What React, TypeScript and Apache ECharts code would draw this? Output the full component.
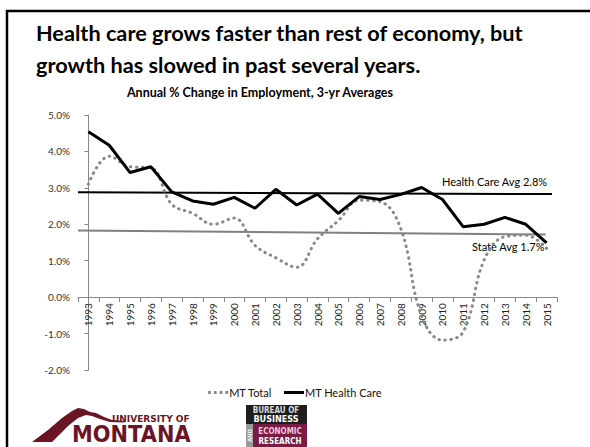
import React, { useEffect, useRef } from "react";
import * as echarts from "echarts";

const years = ["1993","1994","1995","1996","1997","1998","1999","2000","2001","2002","2003","2004","2005","2006","2007","2008","2009","2010","2011","2012","2013","2014","2015"];
const mtTotal = [3.1, 3.87, 3.58, 3.55, 2.55, 2.3, 2.0, 2.17, 1.42, 1.08, 0.82, 1.6, 2.1, 2.66, 2.62, 1.88, -0.52, -1.18, -0.95, 1.02, 1.66, 1.7, 1.34];
const mtHealth = [4.54, 4.17, 3.42, 3.58, 2.89, 2.64, 2.55, 2.74, 2.44, 2.96, 2.53, 2.83, 2.3, 2.76, 2.68, 2.82, 3.01, 2.68, 1.93, 2.0, 2.19, 2.0, 1.49];
const healthAvgLine = [[-0.5, 2.88], [22.26, 2.83]];
const stateAvgLine = [[-0.5, 1.83], [21.95, 1.72]];
const yTicks = { min: -2, max: 5, interval: 1 };

const FONT = "Lato, 'Open Sans', sans-serif";
const MAROON = "#6b1425";

export default function App() {
  const ref = useRef<HTMLDivElement>(null);
  useEffect(() => {
    document.body.style.margin = "0";
    const chart = echarts.init(ref.current!, null, { renderer: "svg" });
    const gridTop = 115;
    const gridBottom = 77;
    const plotH = 447 - gridTop - gridBottom;
    const zeroOffset = -plotH * (0 - yTicks.min) / (yTicks.max - yTicks.min);
    chart.setOption({
      animation: false,
      backgroundColor: "#ffffff",
      textStyle: { fontFamily: FONT },
      grid: { left: 78, right: 33, top: gridTop, bottom: gridBottom, containLabel: false },
      xAxis: [
        {
          type: "category",
          data: years,
          boundaryGap: true,
          position: "bottom",
          offset: zeroOffset,
          axisLine: { onZero: false, lineStyle: { color: "#888", width: 1 } },
          axisTick: { show: true, length: 5, lineStyle: { color: "#888" } },
          axisLabel: { rotate: 90, fontSize: 10, color: "#222", fontFamily: FONT, margin: 6, interval: 0 },
        },
        { type: "value", min: -0.5, max: 22.5, show: false },
      ],
      yAxis: {
        type: "value",
        min: yTicks.min,
        max: yTicks.max,
        interval: yTicks.interval,
        axisLine: { show: true, lineStyle: { color: "#888" } },
        axisTick: { show: true, length: 4, lineStyle: { color: "#888" } },
        splitLine: { show: false },
        axisLabel: { fontSize: 10, color: "#333", margin: 8, formatter: (v: number) => v.toFixed(1) + "%" },
      },
      legend: {
        top: 382,
        left: "center",
        itemWidth: 20,
        itemHeight: 3,
        itemGap: 12,
        textStyle: { fontSize: 11, color: "#111", fontFamily: FONT, padding: [0, 0, 0, -4] },
        data: [
          { name: "MT Total", icon: "path://M0,0h2.4v2.4h-2.4z M5,0h2.4v2.4h-2.4z M10,0h2.4v2.4h-2.4z M15,0h2.4v2.4h-2.4z", itemStyle: { color: "#888" } },
          { name: "MT Health Care", icon: "rect", itemStyle: { color: "#000" } },
        ],
      },
      series: [
        {
          name: "Health Care Avg",
          type: "line",
          xAxisIndex: 1,
          data: healthAvgLine,
          symbol: "none",
          lineStyle: { color: "#000", width: 2 },
          silent: true,
          z: 1,
        },
        {
          name: "State Avg",
          type: "line",
          xAxisIndex: 1,
          data: stateAvgLine,
          symbol: "none",
          lineStyle: { color: "#808080", width: 2 },
          silent: true,
          z: 1,
        },
        {
          name: "MT Total",
          type: "line",
          data: mtTotal,
          smooth: 0.4,
          symbol: "none",
          itemStyle: { color: "#888" },
          lineStyle: { color: "#888", width: 3, type: [0.5, 5.5], cap: "round" },
          z: 2,
        },
        {
          name: "MT Health Care",
          type: "line",
          data: mtHealth,
          symbol: "none",
          itemStyle: { color: "#000" },
          lineStyle: { color: "#000", width: 3 },
          z: 3,
        },
      ],
      graphic: [
        { type: "rect", shape: { x: 7, y: 11, width: 700, height: 600 }, style: { fill: "none", stroke: "#000", lineWidth: 2.5 }, silent: true },
        { type: "text", x: 36, y: 33, style: { text: "Health care grows faster than rest of economy, but", font: `bold 21.7px ${FONT}`, fill: "#000", textVerticalAlign: "middle" } },
        { type: "text", x: 36, y: 65, style: { text: "growth has slowed in past several years.", font: `bold 21.7px ${FONT}`, fill: "#000", textVerticalAlign: "middle" } },
        { type: "text", x: 260, y: 92, style: { text: "Annual % Change in Employment, 3-yr Averages", font: `bold 12.5px ${FONT}`, fill: "#000", textAlign: "center", textVerticalAlign: "middle" } },
        { type: "text", x: 442, y: 181, style: { text: "Health Care Avg 2.8%", font: `11px ${FONT}`, fill: "#000", textVerticalAlign: "middle" } },
        { type: "text", x: 472, y: 246, style: { text: "State Avg 1.7%", font: `11px ${FONT}`, fill: "#000", textVerticalAlign: "middle" } },
        // University of Montana logo
        {
          type: "polygon",
          shape: { points: [[32,442],[48,430],[62,418],[72,411],[78,408],[84,409],[90,412],[96,413],[104,417],[112,420],[124,421],[124,422.5],[110,422],[100,419],[92,416],[86,415],[78,418],[68,426],[58,436],[52,442]] },
          style: { fill: MAROON },
        },
        { type: "text", x: 112, y: 418.5, style: { text: "UNIVERSITY OF", font: `bold 9px 'DejaVu Sans', sans-serif`, fill: MAROON, textVerticalAlign: "middle", lineHeight: 9 } },
        { type: "text", x: 72, y: 434.5, scaleX: 0.93, style: { text: "MONTANA", font: `900 22.5px 'DejaVu Sans', sans-serif`, fill: MAROON, textVerticalAlign: "middle", lineHeight: 17 } },
        // BBER logo
        { type: "rect", shape: { x: 246, y: 405, width: 61, height: 19 }, style: { fill: "#1e1e1e" } },
        { type: "rect", shape: { x: 246, y: 424, width: 7, height: 23 }, style: { fill: "#9a9a9a" } },
        { type: "rect", shape: { x: 253, y: 424, width: 54, height: 23 }, style: { fill: "#7a1b45" } },
        { type: "text", x: 276, y: 410, style: { text: "BUREAU OF", font: `bold 8px 'DejaVu Sans Condensed', sans-serif`, fill: "#ddd", textAlign: "center", textVerticalAlign: "middle", lineHeight: 8 } },
        { type: "text", x: 276, y: 419, style: { text: "BUSINESS", font: `bold 9px 'DejaVu Sans Condensed', sans-serif`, fill: "#fff", textAlign: "center", textVerticalAlign: "middle", lineHeight: 9 } },
        { type: "text", x: 280, y: 431, style: { text: "ECONOMIC", font: `bold 8px 'DejaVu Sans Condensed', sans-serif`, fill: "#f3c6d8", textAlign: "center", textVerticalAlign: "middle", lineHeight: 8 } },
        { type: "text", x: 280, y: 441, style: { text: "RESEARCH", font: `bold 8px 'DejaVu Sans Condensed', sans-serif`, fill: "#fff", textAlign: "center", textVerticalAlign: "middle", lineHeight: 8 } },
        { type: "text", x: 249.5, y: 435.5, rotation: Math.PI / 2, style: { text: "AND", font: `bold 6px 'DejaVu Sans Condensed', sans-serif`, fill: "#eee", textAlign: "center", textVerticalAlign: "middle" } },
      ],
    });
    return () => chart.dispose();
  }, []);
  return <div ref={ref} style={{ position: "fixed", left: 0, top: 0, width: 590, height: 447 }} />;
}
